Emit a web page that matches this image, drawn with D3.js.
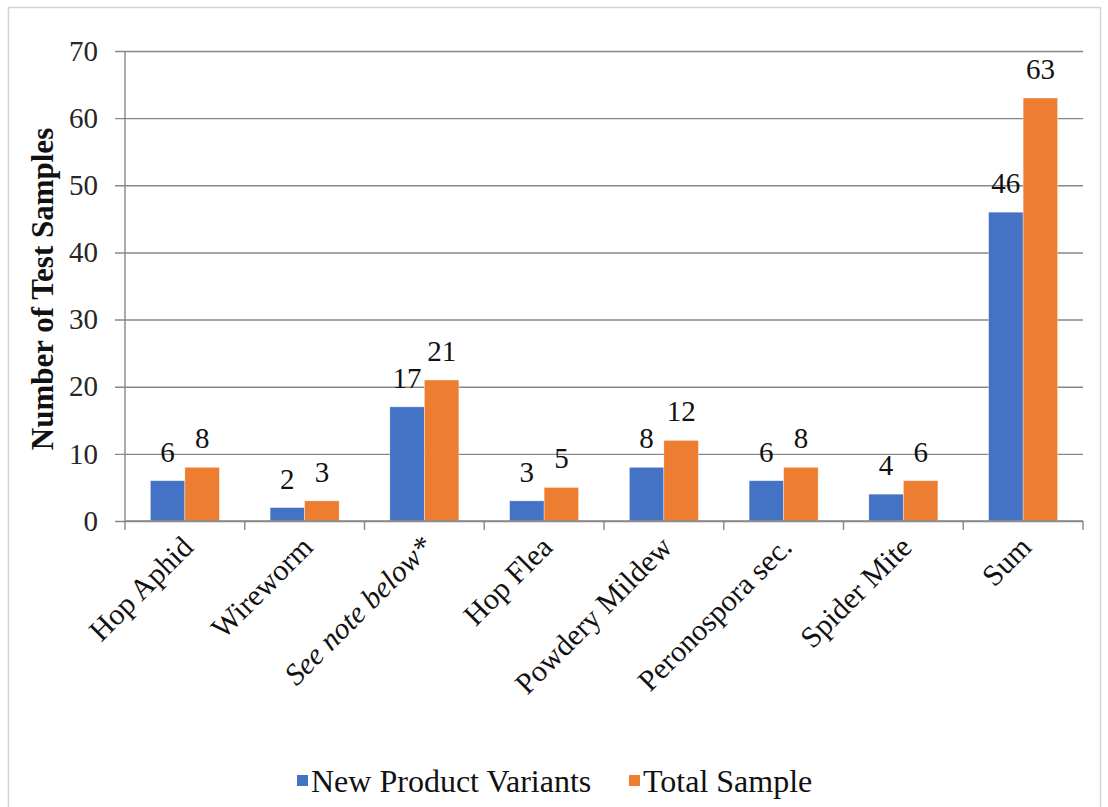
<!DOCTYPE html>
<html>
<head>
<meta charset="utf-8">
<script src="https://cdn.jsdelivr.net/npm/d3@7"></script>
<style>
  html, body { margin: 0; padding: 0; background: #fff; }
  svg { display: block; font-family: "Liberation Serif", "Times New Roman", serif; }
</style>
</head>
<body>
<svg id="chart" width="1108" height="807"></svg>
<script>
// Test samples per pest / disease category
const categories = ["Hop Aphid", "Wireworm", "See note below*", "Hop Flea", "Powdery Mildew", "Peronospora sec.", "Spider Mite", "Sum"];
const newVariants = [6, 2, 17, 3, 8, 6, 4, 46];
const totalSample = [8, 3, 21, 5, 12, 8, 6, 63];
const seriesNames = ["New Product Variants", "Total Sample"];
const seriesColors = ["#4472C4", "#ED7D31"];
const yTicks = [0, 10, 20, 30, 40, 50, 60, 70];
const italicCategories = ["See note below*"];

const svg = d3.select("#chart");
const margin = { left: 125, right: 25, top: 51, bottom: 286 };
const W = 1108, H = 807;
const plotW = W - margin.left - margin.right;
const plotH = H - margin.top - margin.bottom;
const serif = '"Liberation Serif", "Times New Roman", serif';

// outer chart frame
svg.append("rect")
  .attr("x", 8.5).attr("y", 7.5)
  .attr("width", 1092).attr("height", 820)
  .attr("fill", "none").attr("stroke", "#d4d4d4").attr("stroke-width", 1.5);

const g = svg.append("g").attr("transform", `translate(${margin.left},${margin.top})`);

const x0 = d3.scaleBand().domain(categories).range([0, plotW]).paddingInner(0).paddingOuter(0);
const x1 = d3.scaleBand().domain(seriesNames).range([0, x0.bandwidth()]).paddingInner(0).paddingOuter(0.735);
const y = d3.scaleLinear().domain([0, 70]).range([plotH, 0]);

const gridColor = "#878787";

// horizontal gridlines with short outer tick marks, plus value labels
const yAxis = d3.axisLeft(y).tickValues(yTicks).tickSize(-plotW - 10).tickFormat(d3.format("d")).tickPadding(17);
const yg = g.append("g").attr("transform", "translate(-10,0)").call(yAxis);
yg.attr("font-family", serif);
yg.select(".domain").remove();
yg.selectAll(".tick line").attr("stroke", gridColor).attr("stroke-width", 1.4).attr("x1", 0).attr("x2", plotW + 10);
yg.selectAll(".tick text")
  .attr("font-size", 29).attr("fill", "#262626")
  .attr("font-family", serif);

// vertical axis line
g.append("line").attr("x1", 0).attr("x2", 0).attr("y1", 0).attr("y2", plotH)
  .attr("stroke", gridColor).attr("stroke-width", 1.4);

// bars
const rows = categories.map((c, i) => ({ cat: c, vals: [newVariants[i], totalSample[i]] }));
const groups = g.selectAll(".grp").data(rows).join("g")
  .attr("class", "grp")
  .attr("transform", d => `translate(${x0(d.cat)},0)`);

groups.selectAll("rect").data(d => d.vals.map((v, k) => ({ v, k }))).join("rect")
  .attr("x", d => x1(seriesNames[d.k]))
  .attr("width", x1.bandwidth())
  .attr("y", d => y(d.v))
  .attr("height", d => plotH - y(d.v))
  .attr("fill", d => seriesColors[d.k])
  .attr("stroke", "#fff").attr("stroke-width", 0.6).attr("stroke-opacity", 0.6);

groups.selectAll("text.val").data(d => d.vals.map((v, k) => ({ v, k }))).join("text")
  .attr("class", "val")
  .attr("x", d => x1(seriesNames[d.k]) + x1.bandwidth() / 2)
  .attr("y", d => y(d.v) - 19)
  .attr("text-anchor", "middle")
  .attr("font-size", 29).attr("fill", "#111")
  .text(d => d.v);

// category axis with boundary ticks
const xg = g.append("g").attr("transform", `translate(0,${plotH})`);
xg.append("line").attr("x1", 0).attr("x2", plotW).attr("y1", 0).attr("y2", 0)
  .attr("stroke", gridColor).attr("stroke-width", 1.4);
const boundaries = categories.map(c => x0(c)).concat([x0(categories[categories.length - 1]) + x0.bandwidth()]);
xg.selectAll("line.tk").data(boundaries).join("line")
  .attr("class", "tk")
  .attr("x1", d => d).attr("x2", d => d).attr("y1", 0).attr("y2", 9)
  .attr("stroke", gridColor).attr("stroke-width", 1.4);

xg.selectAll("text.cat").data(categories).join("text")
  .attr("class", "cat")
  .attr("text-anchor", "end")
  .attr("transform", d => `translate(${x0(d) + x0.bandwidth() / 2 + 10},28) rotate(-45)`)
  .attr("font-size", 30).attr("fill", "#111")
  .attr("font-style", d => italicCategories.includes(d) ? "italic" : "normal")
  .text(d => d);

// y axis title
svg.append("text")
  .attr("transform", `translate(53,${margin.top + plotH / 2 + 3}) rotate(-90)`)
  .attr("text-anchor", "middle")
  .attr("font-size", 31).attr("font-weight", "bold").attr("fill", "#111")
  .text("Number of Test Samples");

// legend
const legendItems = [
  { name: seriesNames[0], color: seriesColors[0], x: 297 },
  { name: seriesNames[1], color: seriesColors[1], x: 629 }
];
const lg = svg.append("g");
legendItems.forEach(it => {
  lg.append("rect").attr("x", it.x).attr("y", 775).attr("width", 11).attr("height", 11).attr("fill", it.color);
  lg.append("text").attr("x", it.x + 14).attr("y", 792)
    .attr("font-size", 32).attr("fill", "#111").text(it.name);
});
</script>
</body>
</html>
